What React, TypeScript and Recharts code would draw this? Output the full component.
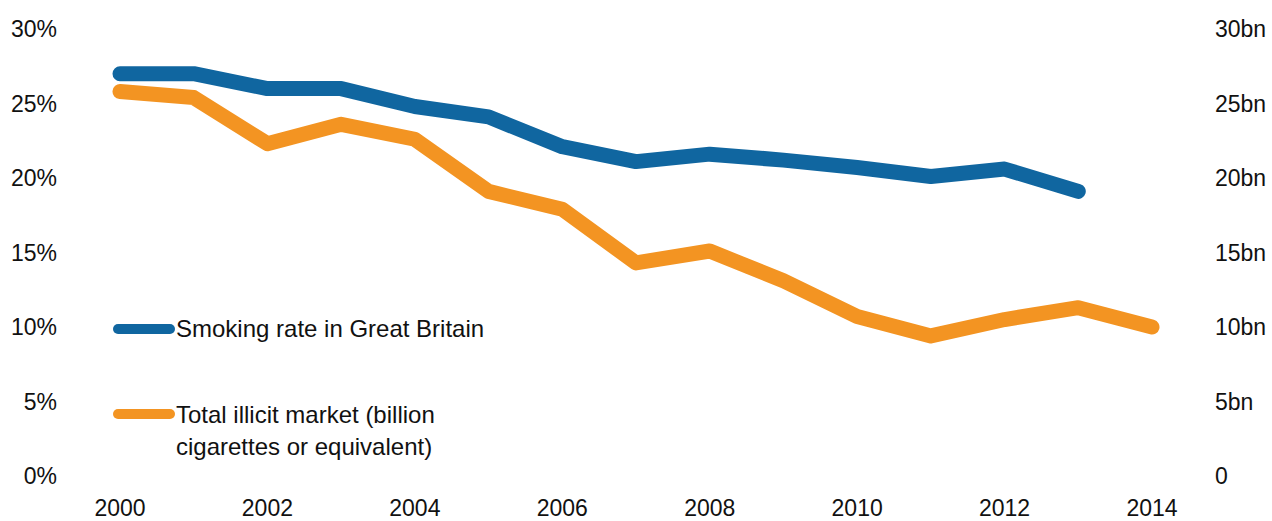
import { Line, LineChart, XAxis, YAxis } from "recharts";

const years = [2000, 2001, 2002, 2003, 2004, 2005, 2006, 2007, 2008, 2009, 2010, 2011, 2012, 2013, 2014];
const smokingRate = [27.0, 27.0, 26.0, 26.0, 24.8, 24.1, 22.1, 21.1, 21.6, 21.2, 20.7, 20.1, 20.6, 19.1, null];
const illicitMarket = [25.8, 25.4, 22.3, 23.6, 22.6, 19.1, 17.9, 14.3, 15.1, 13.1, 10.7, 9.4, 10.5, 11.3, 10.0];

const xTicks = [2000, 2002, 2004, 2006, 2008, 2010, 2012, 2014];
const yTicks = [0, 5, 10, 15, 20, 25, 30];

const BLUE = "#1066a0";
const ORANGE = "#f39422";
const FONT = "'Liberation Sans', Arial, sans-serif";

const data = years.map((year, i) => ({
  year,
  smoking: smokingRate[i],
  illicit: illicitMarket[i],
}));

const tickStyle = { fill: "#111", fontSize: 23, fontFamily: FONT };

export default function App() {
  return (
    <div style={{ position: "absolute", left: 0, top: 0, width: 1272, height: 521, background: "#fff" }}>
      <LineChart width={1272} height={521} data={data} margin={{ top: 29, right: 0, bottom: 0, left: 0 }}>
        <XAxis
          dataKey="year"
          type="number"
          domain={[2000, 2014]}
          ticks={xTicks}
          axisLine={false}
          tickLine={false}
          tickSize={0}
          tickMargin={24}
          tick={tickStyle}
          height={45}
        />
        <YAxis
          yAxisId="left"
          domain={[0, 30]}
          ticks={yTicks}
          tickFormatter={(v) => `${v}%`}
          axisLine={false}
          tickLine={false}
          tickSize={0}
          tickMargin={63}
          tick={tickStyle}
          width={120}
        />
        <YAxis
          yAxisId="right"
          orientation="right"
          domain={[0, 30]}
          ticks={yTicks}
          tickFormatter={(v) => (v === 0 ? "0" : `${v}bn`)}
          axisLine={false}
          tickLine={false}
          tickSize={0}
          tickMargin={63}
          tick={{ ...tickStyle, textAnchor: "start" }}
          width={120}
        />
        <Line
          yAxisId="left"
          dataKey="smoking"
          stroke={BLUE}
          strokeWidth={15}
          strokeLinecap="round"
          strokeLinejoin="round"
          dot={false}
          isAnimationActive={false}
        />
        <Line
          yAxisId="right"
          dataKey="illicit"
          stroke={ORANGE}
          strokeWidth={15}
          strokeLinecap="round"
          strokeLinejoin="round"
          dot={false}
          isAnimationActive={false}
        />
      </LineChart>
      <svg width={1272} height={521} style={{ position: "absolute", left: 0, top: 0, pointerEvents: "none" }}>
        <line x1={118} y1={329} x2={170} y2={329} stroke={BLUE} strokeWidth={10} strokeLinecap="round" />
        <text x={176} y={337} fontSize={24} fontFamily={FONT} fill="#111">
          Smoking rate in Great Britain
        </text>
        <line x1={118} y1={414} x2={170} y2={414} stroke={ORANGE} strokeWidth={10} strokeLinecap="round" />
        <text x={176} y={423} fontSize={24} fontFamily={FONT} fill="#111">
          Total illicit market (billion
        </text>
        <text x={176} y={455} fontSize={24} fontFamily={FONT} fill="#111">
          cigarettes or equivalent)
        </text>
      </svg>
    </div>
  );
}
